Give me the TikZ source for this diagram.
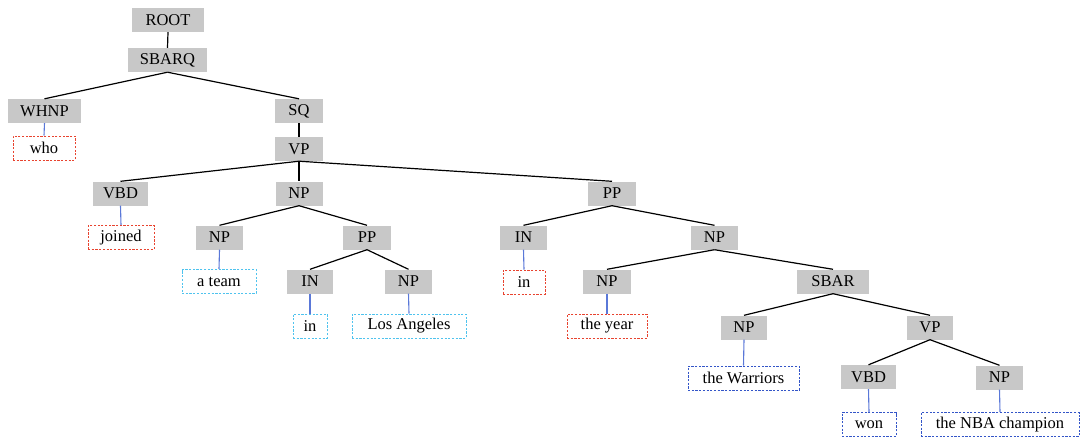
\documentclass[tikz,border=0pt]{standalone}
\usepackage{fontspec}
\setmainfont{Liberation Serif}
\definecolor{boxgray}{HTML}{C8C8C8}
\definecolor{leafred}{HTML}{E8432F}
\definecolor{leafcyan}{HTML}{4FC3EE}
\definecolor{leafblue}{HTML}{3355C8}
\definecolor{linkblue}{HTML}{5A78D8}
\tikzset{
  cat/.style={fill=boxgray, minimum width=#1, minimum height=24pt, inner xsep=0pt, inner ysep=0pt, font=\fontsize{16.5}{18}\selectfont},
  leaf/.style={draw=#1, dash pattern=on 2.2pt off 1.5pt, line width=1pt, fill=white, minimum height=24pt, inner ysep=0pt, font=\fontsize{16.5}{18}\selectfont},
  lr/.style={leaf=leafred, minimum width=#1, inner xsep=0pt},
  lc/.style={leaf=leafcyan, minimum width=#1, inner xsep=0pt},
  lb/.style={leaf=leafblue, minimum width=#1, inner xsep=0pt},
  br/.style={draw=black, line width=1.2pt},
  lk/.style={draw=linkblue, line width=1.1pt}
}
\begin{document}
\begin{tikzpicture}[x=1pt,y=-1pt]
\useasboundingbox (0,0) rectangle (1081,440);
% level nodes
\node[cat=72pt] (root) at (168,20) {ROOT};
\node[cat=79pt] (sbarq) at (167.5,60) {SBARQ};
\node[cat=73pt] (whnp) at (44.5,111) {WHNP};
\node[lr=62pt] (who) at (44,148) {who};
\node[cat=48pt] (sq) at (299,111) {SQ};
\node[cat=48pt] (vp) at (299,149) {VP};
\node[cat=55pt] (vbd) at (120.5,193.5) {VBD};
\node[lr=66pt] (joined) at (121,237.5) {joined};
\node[cat=47pt] (np1) at (299,193.5) {NP};
\node[cat=47pt] (np2) at (219.5,237.5) {NP};
\node[lc=74pt] (ateam) at (219,281.5) {a team};
\node[cat=48pt] (pp1) at (367,237.5) {PP};
\node[cat=46pt] (in1) at (310,281.5) {IN};
\node[lc=34pt] (inleaf1) at (310,326) {in};
\node[cat=47pt] (np3) at (408.5,281.5) {NP};
\node[lc=114pt] (la) at (409,326) {Los Angeles};
\node[cat=48pt] (pp2) at (612,193.5) {PP};
\node[cat=47pt] (in2) at (523.5,237.5) {IN};
\node[lr=42pt] (inleaf2) at (524,282) {in};
\node[cat=47pt] (np4) at (714.5,237.5) {NP};
\node[cat=48pt] (np5) at (607,281.5) {NP};
\node[lr=80pt] (year) at (607,326) {the year};
\node[cat=72pt] (sbar) at (833,281.5) {SBAR};
\node[cat=46pt] (np6) at (744,327.5) {NP};
\node[lb=111pt] (warriors) at (743.5,378) {the Warriors};
\node[cat=46pt] (vp2) at (930,327.5) {VP};
\node[cat=55pt] (vbd2) at (868.5,377) {VBD};
\node[lb=54pt] (won) at (869,424.5) {won};
\node[cat=47pt] (np7) at (999.5,377.5) {NP};
\node[lb=158pt] (nba) at (1000,424.5) {the NBA champion};
% branches
\draw[br] (root.south) -- (sbarq.north);
\draw[br] (sbarq.south) -- (whnp.north);
\draw[br] (sbarq.south) -- (sq.north);
\draw[br] (sq.south) -- (vp.north);
\draw[br] (vp.south) -- (vbd.north);
\draw[br] (vp.south) -- (np1.north);
\draw[br] (vp.south) -- (pp2.north);
\draw[br] (np1.south) -- (np2.north);
\draw[br] (np1.south) -- (pp1.north);
\draw[br] (pp1.south) -- (in1.north);
\draw[br] (pp1.south) -- (np3.north);
\draw[br] (pp2.south) -- (in2.north);
\draw[br] (pp2.south) -- (np4.north);
\draw[br] (np4.south) -- (np5.north);
\draw[br] (np4.south) -- (sbar.north);
\draw[br] (sbar.south) -- (np6.north);
\draw[br] (sbar.south) -- (vp2.north);
\draw[br] (vp2.south) -- (vbd2.north);
\draw[br] (vp2.south) -- (np7.north);
% leaf links
\draw[lk] (whnp.south) -- (who.north);
\draw[lk] (vbd.south) -- (joined.north);
\draw[lk] (np2.south) -- (ateam.north);
\draw[lk] (in1.south) -- (inleaf1.north);
\draw[lk] (np3.south) -- (la.north);
\draw[lk] (in2.south) -- (inleaf2.north);
\draw[lk] (np5.south) -- (year.north);
\draw[lk] (np6.south) -- (warriors.north);
\draw[lk] (vbd2.south) -- (won.north);
\draw[lk] (np7.south) -- (nba.north);
\end{tikzpicture}
\end{document}
